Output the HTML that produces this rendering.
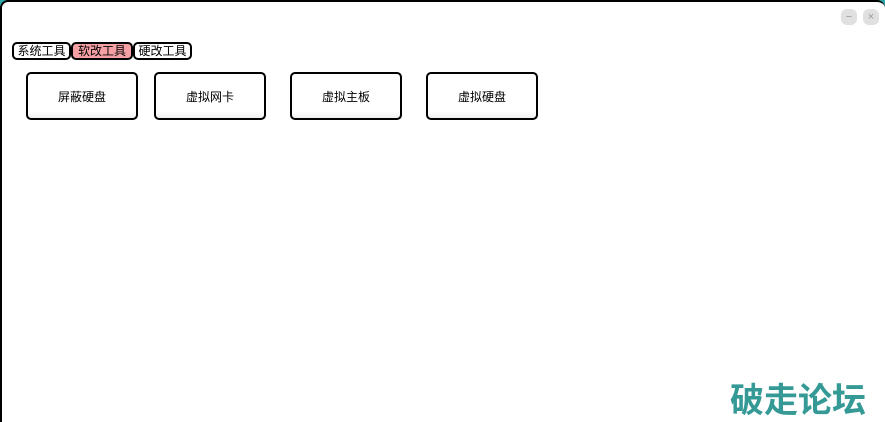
<!DOCTYPE html>
<html><head><meta charset="utf-8"><style>
html,body{margin:0;padding:0;width:885px;height:422px;overflow:hidden;background:#2aa8a8;}
.win{position:absolute;left:0;top:0;width:883px;height:420px;border:2px solid #000;border-right:none;border-bottom:none;border-radius:8px 8px 0 0;background:#fff;font-family:"Liberation Sans","Noto Sans CJK SC",sans-serif;overflow:hidden;}
.tab{position:absolute;top:40px;height:14px;border:2px solid #000;border-radius:5px;font-size:12px;line-height:15px;text-align:center;background:#fff;}
.btn{position:absolute;top:70px;width:108px;height:44px;border:2px solid #000;border-radius:5px;font-size:12px;line-height:46px;text-align:center;background:linear-gradient(#fff 85%,#f0f0f0);}
.cb{position:absolute;top:7px;width:16px;height:16px;border-radius:6px;background:#e0e0e0;color:#999;font-size:11px;line-height:16px;text-align:center;}
.wm{position:absolute;left:728px;top:376px;font-size:34px;font-weight:bold;color:#359a96;font-family:"Noto Sans CJK SC",sans-serif;line-height:40px;white-space:nowrap;}
</style></head><body>
<div class="win">
<div class="cb" style="left:839px">−</div>
<div class="cb" style="left:861px">×</div>
<div class="tab" style="left:10px;width:55px">系统工具</div>
<div class="tab" style="left:69px;width:58px;background:#f5a0a4">软改工具</div>
<div class="tab" style="left:131px;width:55px">硬改工具</div>
<div class="btn" style="left:24px">屏蔽硬盘</div>
<div class="btn" style="left:152px">虚拟网卡</div>
<div class="btn" style="left:288px">虚拟主板</div>
<div class="btn" style="left:424px">虚拟硬盘</div>
<div class="wm">破走论坛</div>
</div>
</body></html>
